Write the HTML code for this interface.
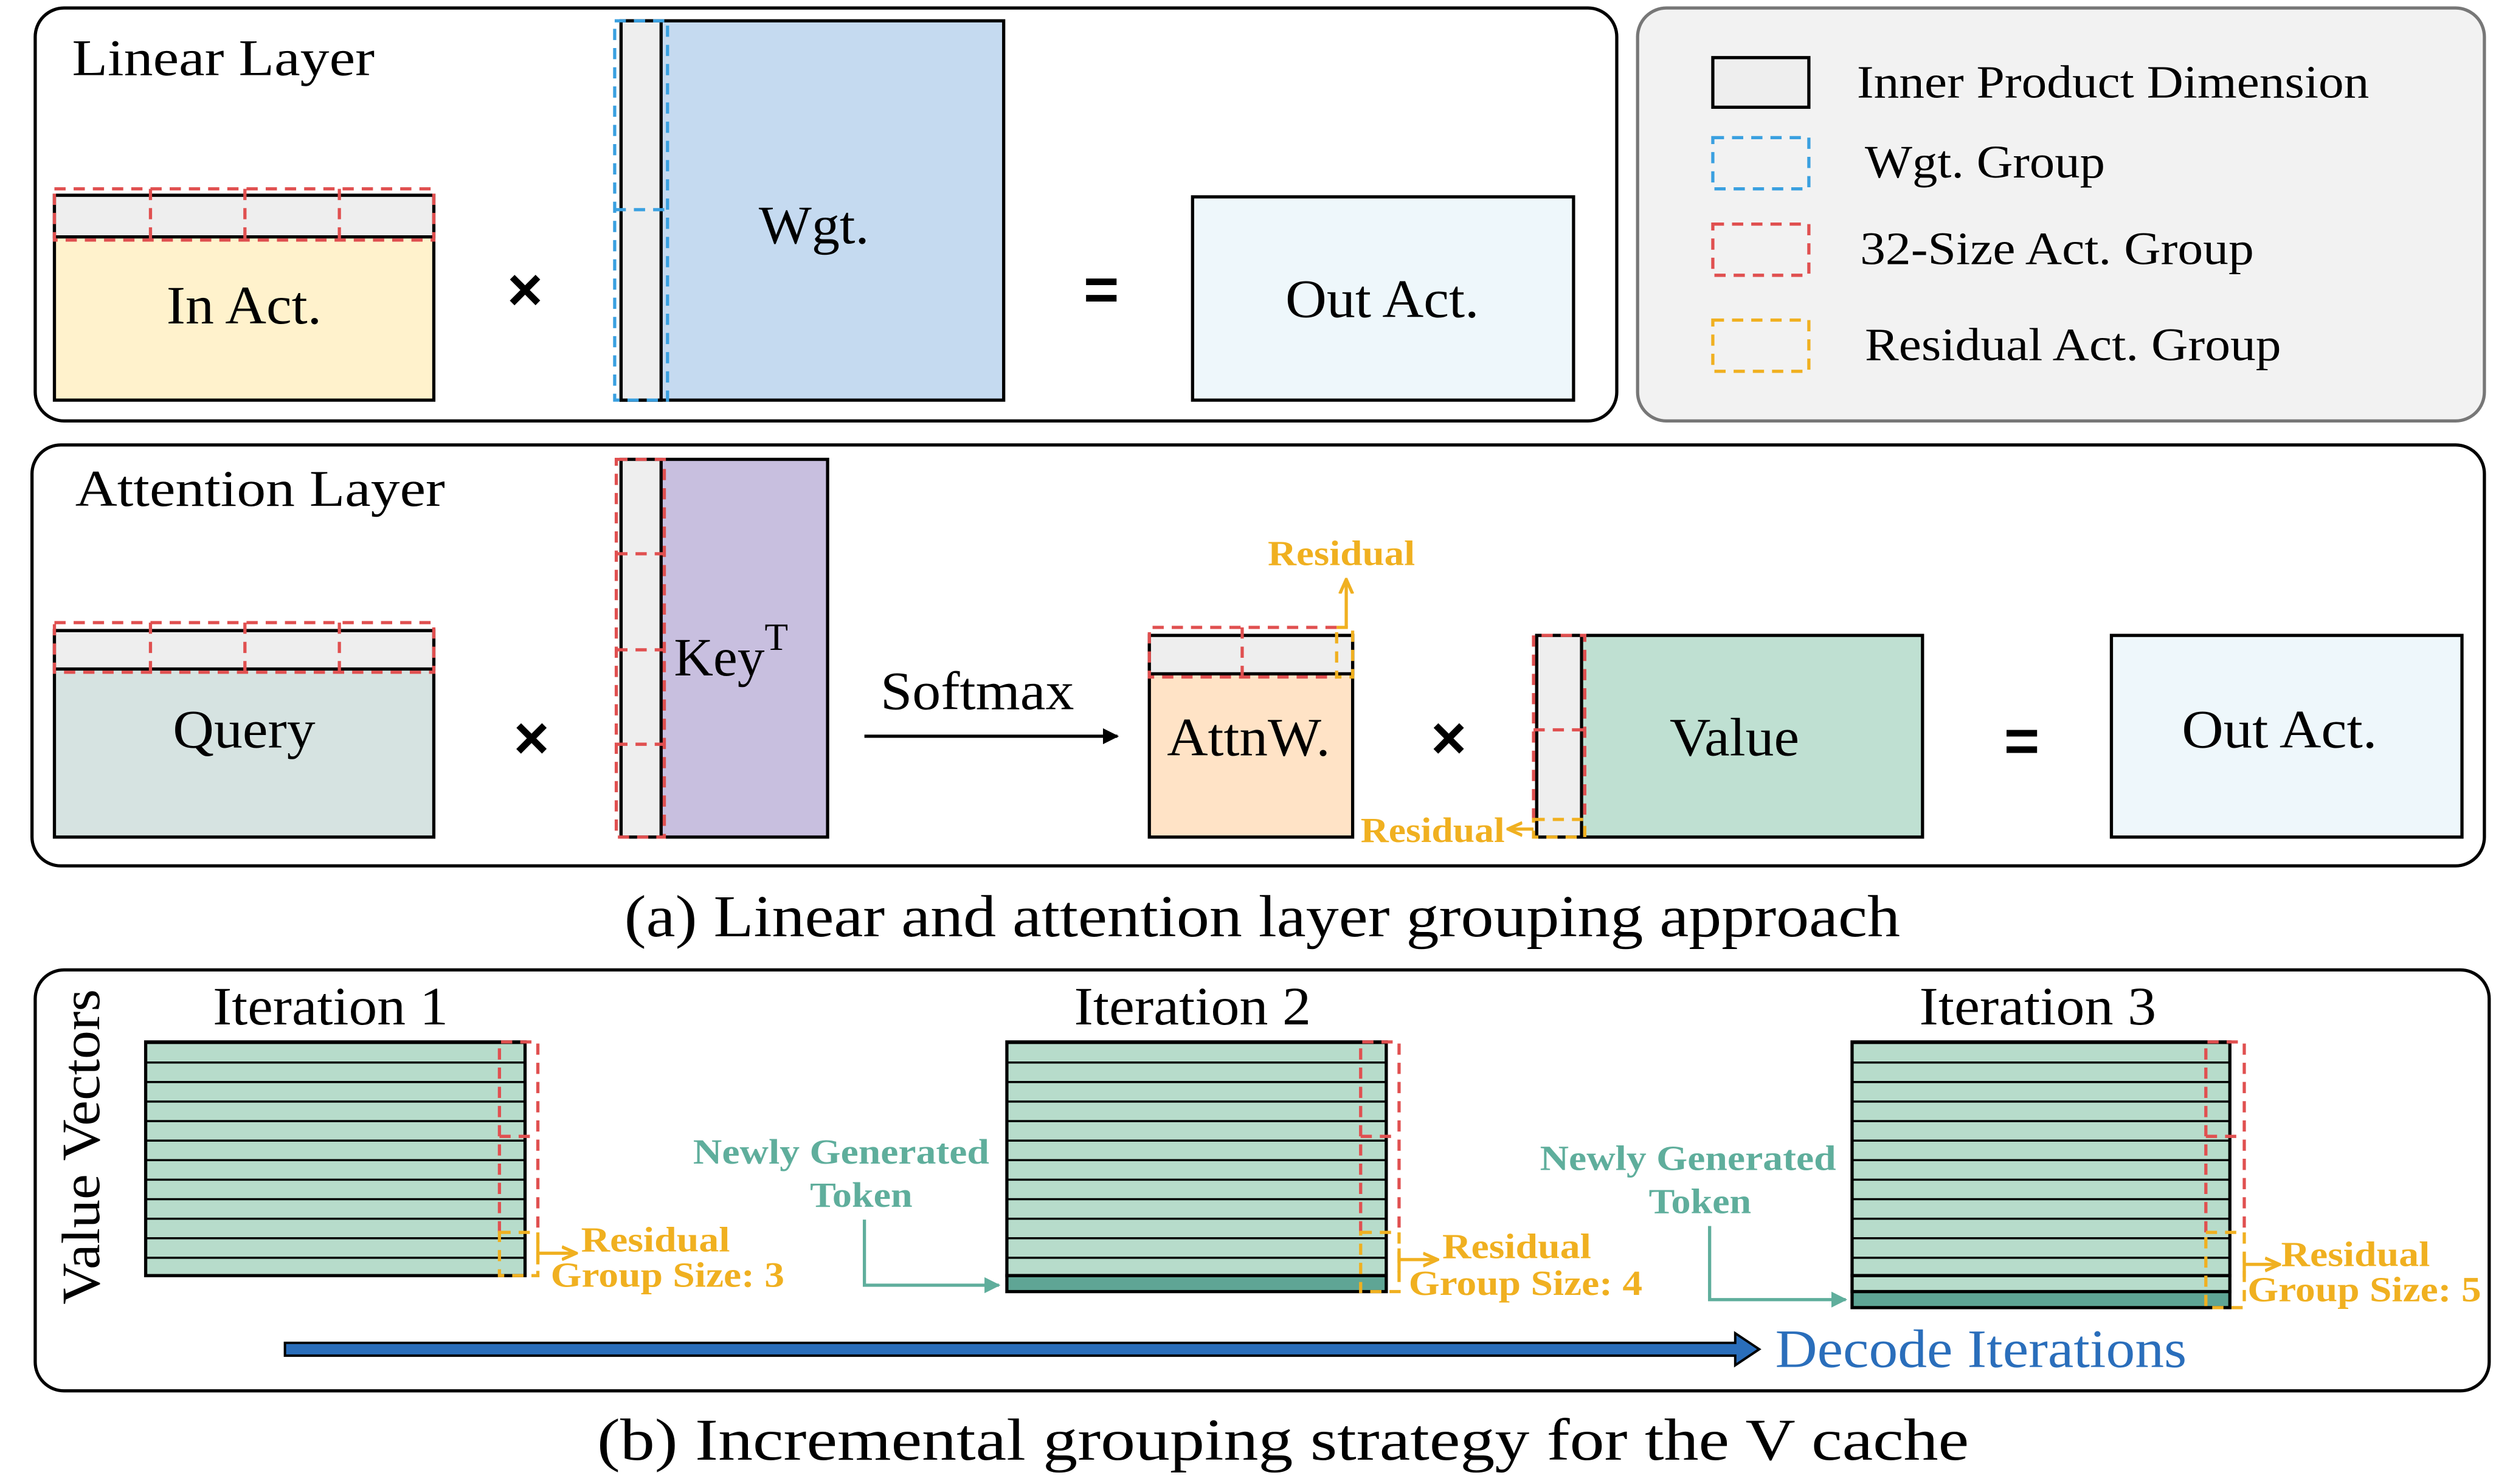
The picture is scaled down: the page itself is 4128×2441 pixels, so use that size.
<!DOCTYPE html>
<html><head><meta charset="utf-8"><style>html,body{margin:0;padding:0;background:#fff}svg{display:block}</style></head><body>
<svg xmlns="http://www.w3.org/2000/svg" width="4128" height="2441" viewBox="0 0 1568 927.2" font-family="Liberation Serif, serif">
<defs>
<marker id="ab" markerWidth="10" markerHeight="10" refX="9" refY="5" orient="auto" markerUnits="userSpaceOnUse"><path d="M0,0 L10,5 L0,10 z" fill="#000"/></marker>
<marker id="ao" markerWidth="10" markerHeight="10" refX="9" refY="5" orient="auto" markerUnits="userSpaceOnUse"><path d="M0,1 L9,5 L0,9" fill="none" stroke="#f0b020" stroke-width="2"/></marker>
<marker id="at" markerWidth="10" markerHeight="10" refX="9" refY="5" orient="auto" markerUnits="userSpaceOnUse"><path d="M0,0 L10,5 L0,10 z" fill="#5fae9c"/></marker>
<pattern id="rows" width="10" height="12.2" patternUnits="userSpaceOnUse" y="651"><rect width="10" height="12.2" fill="#b7dccb"/><line x1="0" y1="0.5" x2="10" y2="0.5" stroke="#000" stroke-width="1.6"/></pattern>
</defs>
<g fill="none" stroke-width="2">
<rect x="22" y="5" width="988" height="258" rx="18" stroke="#000"/>
<rect x="1023" y="5" width="529" height="258" rx="18" fill="#f2f2f2" stroke="#777"/>
<rect x="20" y="278" width="1532" height="263" rx="18" stroke="#000"/>
<rect x="22" y="606" width="1533" height="263" rx="18" stroke="#000"/>
</g>
<g font-size="32" lengthAdjust="spacingAndGlyphs">
<text x="45" y="47" textLength="189" lengthAdjust="spacingAndGlyphs">Linear Layer</text>
<text x="47" y="316" textLength="231" lengthAdjust="spacingAndGlyphs">Attention Layer</text>
</g>
<!-- Linear -->
<rect x="34" y="122" width="237" height="128" fill="#fff2cc" stroke="#000" stroke-width="2"/>
<rect x="34" y="122" width="237" height="26" fill="#eeeeee" stroke="#000" stroke-width="2"/>
<g stroke="#e05050" stroke-width="2" stroke-dasharray="7,5" fill="none"><rect x="34" y="118" width="237" height="32"/><line x1="94" y1="118" x2="94" y2="150"/><line x1="153" y1="118" x2="153" y2="150"/><line x1="212" y1="118" x2="212" y2="150"/></g>
<text x="104" y="202" font-size="34" textLength="97" lengthAdjust="spacingAndGlyphs">In Act.</text>
<rect x="388" y="13" width="239" height="237" fill="#c5daf0" stroke="#000" stroke-width="2"/>
<rect x="388" y="13" width="25" height="237" fill="#eeeeee" stroke="#000" stroke-width="2"/>
<g stroke="#3aa0e0" stroke-width="2" stroke-dasharray="7,5" fill="none"><rect x="384" y="13" width="33" height="237"/><line x1="384" y1="131" x2="417" y2="131"/></g>
<text x="474" y="152" font-size="34" textLength="69" lengthAdjust="spacingAndGlyphs">Wgt.</text>
<text x="328" y="194" font-size="38" font-family="Liberation Sans, sans-serif" font-weight="bold" text-anchor="middle">×</text>
<text x="688" y="194" font-size="38" font-family="Liberation Sans, sans-serif" font-weight="bold" text-anchor="middle">=</text>
<rect x="745" y="123" width="238" height="127" fill="#eef7fb" stroke="#000" stroke-width="2"/>
<text x="803" y="198" font-size="34" textLength="121" lengthAdjust="spacingAndGlyphs">Out Act.</text>
<!-- legend -->
<rect x="1070" y="36" width="60" height="31" fill="#eee" stroke="#000" stroke-width="2"/>
<g fill="none" stroke-width="2" stroke-dasharray="7,5"><rect x="1070" y="86" width="60" height="32" stroke="#3aa0e0"/><rect x="1070" y="140" width="60" height="32" stroke="#e05050"/><rect x="1070" y="200" width="60" height="32" stroke="#f0b020"/></g>
<g font-size="29"><text x="1160" y="61" textLength="320" lengthAdjust="spacingAndGlyphs">Inner Product Dimension</text><text x="1165" y="111" textLength="150" lengthAdjust="spacingAndGlyphs">Wgt. Group</text><text x="1162" y="165" textLength="246" lengthAdjust="spacingAndGlyphs">32-Size Act. Group</text><text x="1165" y="225" textLength="260" lengthAdjust="spacingAndGlyphs">Residual Act. Group</text></g>
<!-- attention -->
<rect x="34" y="394" width="237" height="129" fill="#d6e3e1" stroke="#000" stroke-width="2"/>
<rect x="34" y="394" width="237" height="24" fill="#eee" stroke="#000" stroke-width="2"/>
<g stroke="#e05050" stroke-width="2" stroke-dasharray="7,5" fill="none"><rect x="34" y="389" width="237" height="31"/><line x1="94" y1="389" x2="94" y2="420"/><line x1="153" y1="389" x2="153" y2="420"/><line x1="212" y1="389" x2="212" y2="420"/></g>
<text x="108" y="467" font-size="34" textLength="89" lengthAdjust="spacingAndGlyphs">Query</text>
<text x="332" y="474" font-size="38" font-family="Liberation Sans, sans-serif" font-weight="bold" text-anchor="middle">×</text>
<rect x="388" y="287" width="129" height="236" fill="#c8bfdf" stroke="#000" stroke-width="2"/>
<rect x="388" y="287" width="25" height="236" fill="#eee" stroke="#000" stroke-width="2"/>
<g stroke="#e05050" stroke-width="2" stroke-dasharray="7,5" fill="none"><rect x="385" y="287" width="30" height="236"/><line x1="385" y1="346" x2="415" y2="346"/><line x1="385" y1="406" x2="415" y2="406"/><line x1="385" y1="465" x2="415" y2="465"/></g>
<text x="421" y="422" font-size="34">Key<tspan dy="-16" font-size="24">T</tspan></text>
<text x="550" y="443" font-size="34" textLength="121" lengthAdjust="spacingAndGlyphs">Softmax</text>
<line x1="540" y1="460" x2="698" y2="460" stroke="#000" stroke-width="2" marker-end="url(#ab)"/>
<rect x="718" y="397" width="127" height="126" fill="#ffe3c6" stroke="#000" stroke-width="2"/>
<rect x="718" y="397" width="127" height="24" fill="#eee" stroke="#000" stroke-width="2"/>
<g stroke-width="2" stroke-dasharray="7,5" fill="none"><path d="M835,392 H718 V423 H835 M776,392 V423" stroke="#e05050"/><path d="M835,392 H845 V423 H835 Z" stroke="#f0b020"/></g>
<line x1="841" y1="392" x2="841" y2="362" stroke="#f0b020" stroke-width="2" marker-end="url(#ao)"/>
<text x="792" y="353" font-size="22" font-weight="bold" fill="#f0b020" textLength="92" lengthAdjust="spacingAndGlyphs">Residual</text>
<text x="729" y="472" font-size="34" textLength="102" lengthAdjust="spacingAndGlyphs">AttnW.</text>
<text x="905" y="474" font-size="38" font-family="Liberation Sans, sans-serif" font-weight="bold" text-anchor="middle">×</text>
<rect x="960" y="397" width="241" height="126" fill="#bfe0d2" stroke="#000" stroke-width="2"/>
<rect x="960" y="397" width="28" height="126" fill="#eee" stroke="#000" stroke-width="2"/>
<g stroke-width="2" stroke-dasharray="7,5" fill="none"><path d="M958,512 V397 H990 V512 M958,456 H990" stroke="#e05050"/><path d="M958,512 H990 V523 H958 Z" stroke="#f0b020"/></g>
<line x1="958" y1="518" x2="942" y2="518" stroke="#f0b020" stroke-width="2" marker-end="url(#ao)"/>
<text x="850" y="526" font-size="22" font-weight="bold" fill="#f0b020" textLength="90" lengthAdjust="spacingAndGlyphs">Residual</text>
<text x="1043" y="472" font-size="34" textLength="81" lengthAdjust="spacingAndGlyphs">Value</text>
<text x="1263" y="476" font-size="38" font-family="Liberation Sans, sans-serif" font-weight="bold" text-anchor="middle">=</text>
<rect x="1319" y="397" width="219" height="126" fill="#eef7fb" stroke="#000" stroke-width="2"/>
<text x="1363" y="467" font-size="34" textLength="122" lengthAdjust="spacingAndGlyphs">Out Act.</text>
<text x="390" y="585" font-size="37" textLength="797" lengthAdjust="spacingAndGlyphs">(a) Linear and attention layer grouping approach</text>
<!-- (b) -->
<text x="0" y="0" font-size="34" textLength="197" lengthAdjust="spacingAndGlyphs" transform="translate(62,815) rotate(-90)">Value Vectors</text>
<g font-size="34"><text x="133" y="640" textLength="147" lengthAdjust="spacingAndGlyphs">Iteration 1</text><text x="671" y="640" textLength="148" lengthAdjust="spacingAndGlyphs">Iteration 2</text><text x="1199" y="640" textLength="148" lengthAdjust="spacingAndGlyphs">Iteration 3</text></g>
<rect x="91" y="651" width="237" height="146" fill="url(#rows)" stroke="#000" stroke-width="2"/>
<rect x="629" y="651" width="237" height="146" fill="url(#rows)" stroke="#000" stroke-width="2"/>
<rect x="629" y="797" width="237" height="10" fill="#5fa595" stroke="#000" stroke-width="2"/>
<rect x="1157" y="651" width="236" height="146" fill="url(#rows)" stroke="#000" stroke-width="2"/>
<rect x="1157" y="797" width="236" height="10" fill="#b7dccb" stroke="#000" stroke-width="2"/>
<rect x="1157" y="807" width="236" height="10" fill="#5fa595" stroke="#000" stroke-width="2"/>
<g stroke-width="2" stroke-dasharray="7,5" fill="none">
<path d="M312,770 V651 H336 V770 M312,710 H336" stroke="#e05050"/><rect x="312" y="770" width="24" height="27" stroke="#f0b020"/>
<path d="M850,770 V651 H874 V770 M850,710 H874" stroke="#e05050"/><rect x="850" y="770" width="24" height="37" stroke="#f0b020"/>
<path d="M1378,770 V651 H1402 V770 M1378,710 H1402" stroke="#e05050"/><rect x="1378" y="770" width="24" height="47" stroke="#f0b020"/>
</g>
<g stroke="#f0b020" stroke-width="2" fill="none"><path d="M336,775 V790" /><line x1="336" y1="783" x2="360" y2="783" marker-end="url(#ao)"/><path d="M874,780 V795"/><line x1="874" y1="787" x2="898" y2="787" marker-end="url(#ao)"/><path d="M1402,783 V798"/><line x1="1402" y1="790" x2="1424" y2="790" marker-end="url(#ao)"/></g>
<g font-size="22" font-weight="bold" fill="#f0b020">
<text x="363" y="782" textLength="93" lengthAdjust="spacingAndGlyphs">Residual</text><text x="344" y="804" textLength="146" lengthAdjust="spacingAndGlyphs">Group Size: 3</text>
<text x="901" y="786" textLength="93" lengthAdjust="spacingAndGlyphs">Residual</text><text x="880" y="809" textLength="146" lengthAdjust="spacingAndGlyphs">Group Size: 4</text>
<text x="1425" y="791" textLength="93" lengthAdjust="spacingAndGlyphs">Residual</text><text x="1404" y="813" textLength="146" lengthAdjust="spacingAndGlyphs">Group Size: 5</text>
</g>
<g font-size="22" font-weight="bold" fill="#5fae9c">
<text x="433" y="727" textLength="185" lengthAdjust="spacingAndGlyphs">Newly Generated</text><text x="506" y="754" textLength="64" lengthAdjust="spacingAndGlyphs">Token</text>
<text x="962" y="731" textLength="185" lengthAdjust="spacingAndGlyphs">Newly Generated</text><text x="1030" y="758" textLength="64" lengthAdjust="spacingAndGlyphs">Token</text>
</g>
<g stroke="#5fae9c" stroke-width="2" fill="none"><path d="M540,762 V803 H624" marker-end="url(#at)"/><path d="M1068,766 V812 H1153" marker-end="url(#at)"/></g>
<path d="M178,839 H1084 V833 L1099,843 L1084,853 V847 H178 Z" fill="#2a6ebb" stroke="#000" stroke-width="1.5"/>
<text x="1109" y="854" font-size="34" fill="#2a6ebb" textLength="257" lengthAdjust="spacingAndGlyphs">Decode Iterations</text>
<text x="373" y="912" font-size="37" textLength="857" lengthAdjust="spacingAndGlyphs">(b) Incremental grouping strategy for the V cache</text>
</svg>
</body></html>
